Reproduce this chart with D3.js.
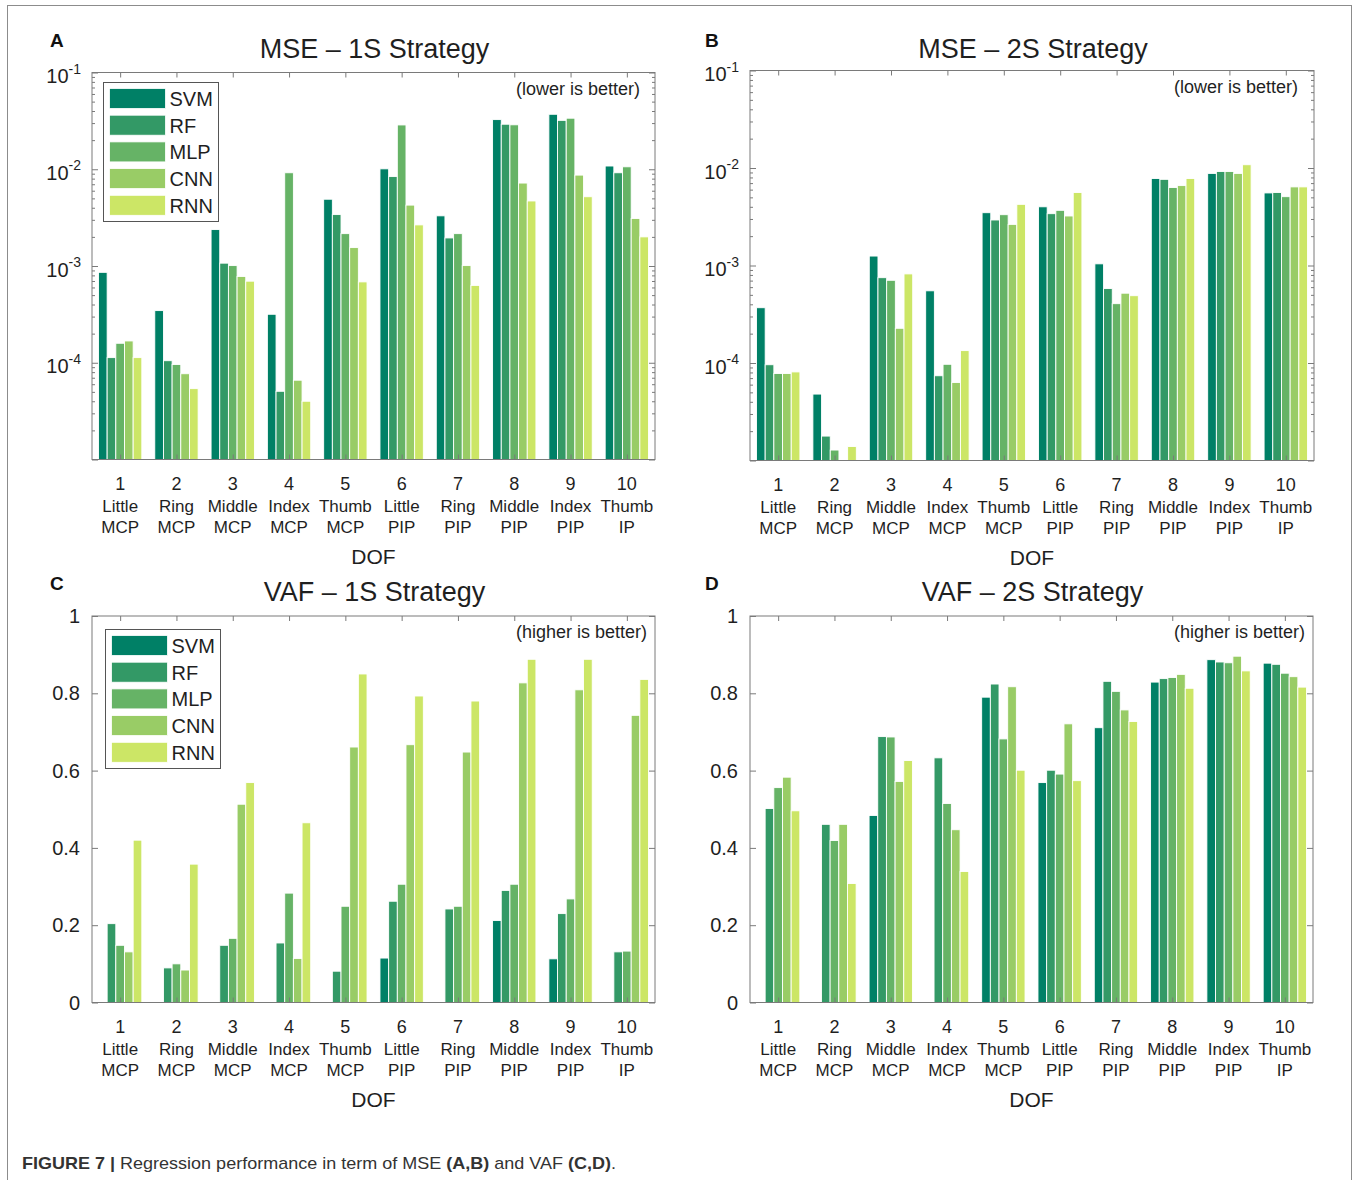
<!DOCTYPE html>
<html>
<head>
<meta charset="utf-8">
<title>Regression performance (MSE and VAF)</title>
<script src="https://cdn.jsdelivr.net/npm/d3@7/dist/d3.min.js"></script>
<style>
  html, body { margin: 0; padding: 0; background: #ffffff; }
  svg { display: block; font-family: "Liberation Sans", Arial, Helvetica, sans-serif; }
</style>
</head>
<body>
<script>
// ---- categories ----
const dofNumbers = ["1", "2", "3", "4", "5", "6", "7", "8", "9", "10"];
const dofFingers = ["Little", "Ring", "Middle", "Index", "Thumb", "Little", "Ring", "Middle", "Index", "Thumb"];
const dofJoints  = ["MCP", "MCP", "MCP", "MCP", "MCP", "PIP", "PIP", "PIP", "PIP", "IP"];
const models = ["SVM", "RF", "MLP", "CNN", "RNN"];
const modelColors = ["#008066", "#339966", "#66b366", "#99cc66", "#cce666"];

// ---- MSE, one-step strategy (per model, DOF 1..10) ----
const mse1S_SVM = [8.6e-4, 3.46e-4, 2.38e-3, 3.17e-4, 4.9e-3, 1.01e-2, 3.3e-3, 3.26e-2, 3.7e-2, 1.08e-2];
const mse1S_RF  = [1.13e-4, 1.05e-4, 1.07e-3, 5.07e-5, 3.4e-3, 8.4e-3, 1.95e-3, 2.92e-2, 3.2e-2, 9.2e-3];
const mse1S_MLP = [1.59e-4, 9.6e-5, 1.01e-3, 9.2e-3, 2.16e-3, 2.87e-2, 2.16e-3, 2.88e-2, 3.37e-2, 1.06e-2];
const mse1S_CNN = [1.68e-4, 7.7e-5, 7.8e-4, 6.6e-5, 1.55e-3, 4.26e-3, 1.01e-3, 7.2e-3, 8.7e-3, 3.1e-3];
const mse1S_RNN = [1.13e-4, 5.4e-5, 6.97e-4, 4.0e-5, 6.85e-4, 2.66e-3, 6.3e-4, 4.7e-3, 5.2e-3, 2.0e-3];

// ---- MSE, two-step strategy (null = below the axis range) ----
const mse2S_SVM = [3.69e-4, 4.8e-5, 1.25e-3, 5.5e-4, 3.48e-3, 4.0e-3, 1.04e-3, 7.8e-3, 8.8e-3, 5.55e-3];
const mse2S_RF  = [9.6e-5, 1.78e-5, 7.5e-4, 7.4e-5, 2.93e-3, 3.4e-3, 5.8e-4, 7.65e-3, 9.2e-3, 5.6e-3];
const mse2S_MLP = [7.8e-5, 1.28e-5, 7.05e-4, 9.7e-5, 3.32e-3, 3.68e-3, 4.06e-4, 6.3e-3, 9.2e-3, 5.08e-3];
const mse2S_CNN = [7.8e-5, null, 2.27e-4, 6.3e-5, 2.64e-3, 3.22e-3, 5.2e-4, 6.6e-3, 8.8e-3, 6.4e-3];
const mse2S_RNN = [8.1e-5, 1.39e-5, 8.2e-4, 1.34e-4, 4.24e-3, 5.6e-3, 4.9e-4, 7.8e-3, 1.08e-2, 6.4e-3];

// ---- VAF, one-step strategy (null = below zero, not shown) ----
const vaf1S_SVM = [null, null, null, null, null, 0.115, null, 0.212, 0.113, null];
const vaf1S_RF  = [0.204, 0.0895, 0.148, 0.154, 0.081, 0.262, 0.242, 0.290, 0.230, 0.131];
const vaf1S_MLP = [0.148, 0.100, 0.166, 0.283, 0.249, 0.306, 0.249, 0.306, 0.268, 0.133];
const vaf1S_CNN = [0.131, 0.084, 0.513, 0.114, 0.661, 0.667, 0.648, 0.827, 0.809, 0.743];
const vaf1S_RNN = [0.420, 0.358, 0.569, 0.465, 0.850, 0.793, 0.780, 0.888, 0.888, 0.836];

// ---- VAF, two-step strategy ----
const vaf2S_SVM = [null, null, 0.484, null, 0.790, 0.569, 0.711, 0.829, 0.887, 0.878];
const vaf2S_RF  = [0.502, 0.461, 0.688, 0.633, 0.824, 0.601, 0.831, 0.838, 0.881, 0.875];
const vaf2S_MLP = [0.556, 0.419, 0.687, 0.515, 0.682, 0.591, 0.805, 0.841, 0.879, 0.852];
const vaf2S_CNN = [0.583, 0.461, 0.572, 0.447, 0.817, 0.721, 0.757, 0.849, 0.896, 0.843];
const vaf2S_RNN = [0.496, 0.308, 0.626, 0.339, 0.601, 0.574, 0.727, 0.813, 0.858, 0.816];

// ---- axis tick labels ----
const logMajorTicks = [1e-1, 1e-2, 1e-3, 1e-4];
const logTickExponents = ["-1", "-2", "-3", "-4"];
const vafTicks = [0, 0.2, 0.4, 0.6, 0.8, 1];
const vafTickLabels = ["0", "0.2", "0.4", "0.6", "0.8", "1"];

const W = 1357, H = 1180;
const axisGray = "#7a7a7a";
const textColor = "#1f1f1f";

const svg = d3.select("body").append("svg")
  .attr("width", W).attr("height", H)
  .attr("viewBox", `0 0 ${W} ${H}`);

svg.append("rect").attr("width", W).attr("height", H).attr("fill", "#ffffff");
// figure frame
svg.append("rect")
  .attr("x", 7.5).attr("y", 5.5).attr("width", 1344).attr("height", H)
  .attr("fill", "none").attr("stroke", "#8c8c8c").attr("stroke-width", 1);

function drawPanel(o) {
  const g = svg.append("g");
  const x = d3.scaleLinear().domain([0.5, 10.5]).range([o.x0, o.x1]);
  const slot = d3.scaleBand().domain(models).range([-0.385, 0.385]);
  const y = o.log
    ? d3.scaleLog().domain([1e-5, 1e-1]).range([o.y1, o.y0])
    : d3.scaleLinear().domain([0, 1]).range([o.y1, o.y0]);

  // bars
  const rows = [];
  models.forEach((m, mi) => {
    o.series[mi].forEach((v, di) => {
      if (v === null) return;
      rows.push({ m, mi, di, v });
    });
  });
  g.append("g").selectAll("rect").data(rows).join("rect")
    .attr("x", d => x(d.di + 1 + slot(d.m)))
    .attr("width", d => x(d.di + 1 + slot(d.m) + slot.bandwidth()) - x(d.di + 1 + slot(d.m)))
    .attr("y", d => Math.min(o.y1, y(d.v)))
    .attr("height", d => Math.max(0, o.y1 - y(d.v)))
    .attr("fill", d => modelColors[d.mi])
    .attr("stroke", "#ffffff").attr("stroke-width", 0.9);

  // axes box
  g.append("rect")
    .attr("x", o.x0).attr("y", o.y0)
    .attr("width", o.x1 - o.x0).attr("height", o.y1 - o.y0)
    .attr("fill", "none").attr("stroke", axisGray).attr("stroke-width", 1);

  const styleAxis = sel => {
    sel.select(".domain").remove();
    sel.selectAll(".tick line").attr("stroke", axisGray);
  };

  // x ticks (bottom and top, pointing inward)
  const cats = d3.range(1, 11);
  g.append("g").attr("transform", `translate(0,${o.y1})`)
    .call(d3.axisBottom(x).tickValues(cats).tickSizeInner(-5).tickSizeOuter(0).tickFormat(""))
    .call(styleAxis);
  g.append("g").attr("transform", `translate(0,${o.y0})`)
    .call(d3.axisTop(x).tickValues(cats).tickSizeInner(-5).tickSizeOuter(0).tickFormat(""))
    .call(styleAxis);

  // x tick labels: number, finger, joint
  const lab = g.append("g").attr("fill", textColor).attr("text-anchor", "middle");
  lab.selectAll("text.num").data(dofNumbers).join("text").attr("class", "num")
    .attr("x", (d, i) => x(i + 1)).attr("y", o.y1 + 30)
    .attr("font-size", 18).text(d => d);
  lab.selectAll("text.fin").data(dofFingers).join("text").attr("class", "fin")
    .attr("x", (d, i) => x(i + 1)).attr("y", o.y1 + 52)
    .attr("font-size", 17).text(d => d);
  lab.selectAll("text.jnt").data(dofJoints).join("text").attr("class", "jnt")
    .attr("x", (d, i) => x(i + 1)).attr("y", o.y1 + 73.5)
    .attr("font-size", 17).text(d => d);
  lab.append("text").attr("x", (o.x0 + o.x1) / 2).attr("y", o.y1 + 104)
    .attr("font-size", 21).text("DOF");

  // y ticks
  if (o.log) {
    const minors = [];
    for (let e = -5; e <= -2; e++) for (let k = 2; k <= 9; k++) minors.push(k * Math.pow(10, e));
    const majorsAll = [1e-5].concat(logMajorTicks);
    [[d3.axisLeft, o.x0], [d3.axisRight, o.x1]].forEach(([ax, px]) => {
      g.append("g").attr("transform", `translate(${px},0)`)
        .call(ax(y).tickValues(minors).tickSizeInner(-3).tickSizeOuter(0).tickFormat(""))
        .call(styleAxis);
      g.append("g").attr("transform", `translate(${px},0)`)
        .call(ax(y).tickValues(majorsAll).tickSizeInner(-6).tickSizeOuter(0).tickFormat(""))
        .call(styleAxis);
    });
    const yl = g.append("g").attr("fill", textColor).attr("text-anchor", "end");
    logMajorTicks.forEach((t, i) => {
      const tx = yl.append("text").attr("x", o.x0 - 11).attr("y", y(t) + 10.5);
      tx.append("tspan").attr("font-size", 20).text("10");
      tx.append("tspan").attr("font-size", 14).attr("dy", -9.5).text(logTickExponents[i]);
    });
  } else {
    [[d3.axisLeft, o.x0], [d3.axisRight, o.x1]].forEach(([ax, px]) => {
      g.append("g").attr("transform", `translate(${px},0)`)
        .call(ax(y).tickValues(vafTicks).tickSizeInner(-6).tickSizeOuter(0).tickFormat(""))
        .call(styleAxis);
    });
    g.append("g").attr("fill", textColor).attr("text-anchor", "end")
      .selectAll("text").data(vafTicks).join("text")
      .attr("x", o.x0 - 12).attr("y", d => y(d) + 7)
      .attr("font-size", 20)
      .text((d, i) => vafTickLabels[i]);
  }

  // title, panel letter, note
  g.append("text").attr("x", (o.x0 + o.x1) / 2 + 1).attr("y", o.titleY)
    .attr("text-anchor", "middle").attr("font-size", 27).attr("fill", textColor)
    .text(o.title);
  g.append("text").attr("x", o.letterX).attr("y", o.titleY - 11)
    .attr("font-size", 19).attr("font-weight", "bold").attr("fill", "#111")
    .text(o.letter);
  g.append("text").attr("x", o.x1 - o.noteInset).attr("y", o.y0 + 22)
    .attr("text-anchor", "end").attr("font-size", 18).attr("fill", textColor)
    .text(o.note);

  // legend
  if (o.legend) {
    const lg = g.append("g").attr("transform", `translate(${o.legend[0]},${o.legend[1]})`);
    lg.append("rect").attr("width", 115).attr("height", 139)
      .attr("fill", "#ffffff").attr("stroke", "#555555").attr("stroke-width", 1);
    const item = lg.selectAll("g.item").data(models).join("g").attr("class", "item")
      .attr("transform", (d, i) => `translate(6,${6 + i * 26.7})`);
    item.append("rect").attr("width", 56).attr("height", 20)
      .attr("fill", (d, i) => modelColors[i]).attr("stroke", "#ffffff").attr("stroke-width", 0.8);
    item.append("text").attr("x", 60).attr("y", 17.5)
      .attr("font-size", 20).attr("fill", textColor).text(d => d);
  }
}

drawPanel({
  x0: 92, x1: 655, y0: 72.5, y1: 459.5, log: true,
  series: [mse1S_SVM, mse1S_RF, mse1S_MLP, mse1S_CNN, mse1S_RNN],
  title: "MSE \u2013 1S Strategy", titleY: 58, letter: "A", letterX: 50,
  note: "(lower is better)", noteInset: 15, legend: [103.5, 82.5]
});
drawPanel({
  x0: 750, x1: 1314, y0: 70.5, y1: 460.5, log: true,
  series: [mse2S_SVM, mse2S_RF, mse2S_MLP, mse2S_CNN, mse2S_RNN],
  title: "MSE \u2013 2S Strategy", titleY: 58, letter: "B", letterX: 705,
  note: "(lower is better)", noteInset: 16, legend: null
});
drawPanel({
  x0: 92, x1: 655, y0: 616, y1: 1002.5, log: false,
  series: [vaf1S_SVM, vaf1S_RF, vaf1S_MLP, vaf1S_CNN, vaf1S_RNN],
  title: "VAF \u2013 1S Strategy", titleY: 601, letter: "C", letterX: 50,
  note: "(higher is better)", noteInset: 8, legend: [105.5, 629.5]
});
drawPanel({
  x0: 750, x1: 1313, y0: 616, y1: 1002.5, log: false,
  series: [vaf2S_SVM, vaf2S_RF, vaf2S_MLP, vaf2S_CNN, vaf2S_RNN],
  title: "VAF \u2013 2S Strategy", titleY: 601, letter: "D", letterX: 705,
  note: "(higher is better)", noteInset: 8, legend: null
});

// caption
const cap = svg.append("text").attr("x", 22).attr("y", 1169)
  .attr("font-size", 17).attr("fill", "#333333");
cap.append("tspan").attr("font-weight", "bold").text("FIGURE 7 | ");
cap.append("tspan").text("Regression performance in term of MSE ");
cap.append("tspan").attr("font-weight", "bold").text("(A,B)");
cap.append("tspan").text(" and VAF ");
cap.append("tspan").attr("font-weight", "bold").text("(C,D)");
cap.append("tspan").text(".");
cap.attr("textLength", 594).attr("lengthAdjust", "spacingAndGlyphs");
</script>
</body>
</html>
